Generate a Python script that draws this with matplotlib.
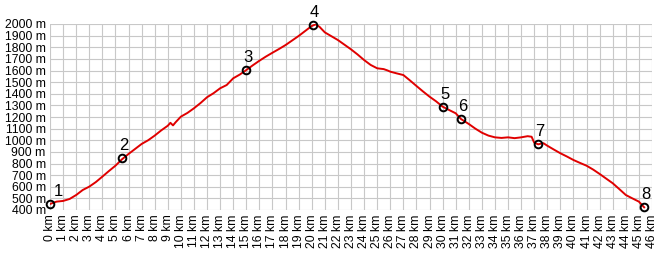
import matplotlib.pyplot as plt

# elevation profile (km, m)
dist_km = [0, 0.5, 1, 1.5, 2, 2.5, 3, 3.5, 4, 4.5, 5, 5.5, 6, 6.5, 7, 7.5, 8, 8.5,
           9, 9.2, 9.4, 9.6, 10, 10.5, 11, 11.5, 12, 12.5, 13, 13.5, 14, 14.5, 15,
           15.5, 16, 16.5, 17, 17.5, 18, 18.5, 19, 19.5, 20, 20.3, 20.6, 21, 21.5,
           22, 22.5, 23, 23.5, 24, 24.5, 25, 25.5, 25.8, 26, 26.5, 27, 27.5, 28,
           28.5, 29, 29.5, 30, 30.5, 31, 31.4, 32, 32.5, 33, 33.5, 34, 34.5, 35,
           35.5, 36, 36.5, 36.8, 37, 37.3, 37.7, 38, 38.5, 39, 39.5, 40, 40.5, 41,
           41.5, 42, 42.5, 43, 43.5, 44, 44.5, 45, 45.4]
elev_m = [452, 472, 478, 495, 529, 572, 601, 640, 687, 735, 781, 836, 882, 925, 968,
          1000, 1040, 1085, 1125, 1150, 1128, 1155, 1203, 1235, 1275, 1320, 1370,
          1405, 1447, 1475, 1533, 1565, 1604, 1645, 1684, 1720, 1753, 1785, 1819,
          1858, 1897, 1940, 1983, 1997, 1975, 1928, 1895, 1862, 1822, 1782, 1738,
          1690, 1648, 1619, 1612, 1600, 1590, 1575, 1561, 1515, 1467, 1420, 1375,
          1335, 1289, 1260, 1232, 1183, 1140, 1100, 1065, 1040, 1025, 1020, 1025,
          1018, 1025, 1035, 1030, 979, 965, 975, 953, 920, 888, 860, 830, 805, 781,
          748, 710, 670, 630, 580, 529, 500, 472, 423]

# numbered waypoints
wp_km = [0, 5.5, 15, 20.1, 30.05, 31.4, 37.3, 45.4]
wp_m = [452, 845, 1604, 1990, 1289, 1183, 965, 423]
wp_labels = ['1', '2', '3', '4', '5', '6', '7', '8']

x_ticks = list(range(0, 47))
y_ticks = list(range(400, 2001, 100))

plt.rcParams['font.family'] = ['Liberation Sans', 'DejaVu Sans']

fig = plt.figure(figsize=(6.72, 2.57), dpi=100)
ax = fig.add_axes([50 / 672, 47 / 257, 602 / 672, 186 / 257])

ax.plot(dist_km, elev_m, color='#e00000', lw=1.4, zorder=3)
ax.plot(wp_km, wp_m, linestyle='none', marker='o', markersize=5.5,
        markerfacecolor='none', markeredgecolor='black', markeredgewidth=1.4,
        zorder=4, clip_on=False)
for k, m, lab in zip(wp_km, wp_m, wp_labels):
    dx = 6 if lab == '1' else 1
    ax.annotate(lab, (k, m), xytext=(dx, 9), textcoords='offset points',
                ha='center', va='center', fontsize=12, zorder=5)

ax.set_xlim(0, 46)
ax.set_ylim(400, 2000)
ax.set_xticks(x_ticks)
ax.set_xticklabels([f'{k} km' for k in x_ticks], rotation=90)
ax.set_yticks(y_ticks)
ax.set_yticklabels([f'{m} m' for m in y_ticks])
ax.tick_params(length=0, labelsize=8.8, pad=3)
ax.grid(True, color='#c8c8c8', lw=0.8)
ax.set_axisbelow(True)
for s in ax.spines.values():
    s.set_visible(False)

fig.savefig('out.png', dpi=100)
